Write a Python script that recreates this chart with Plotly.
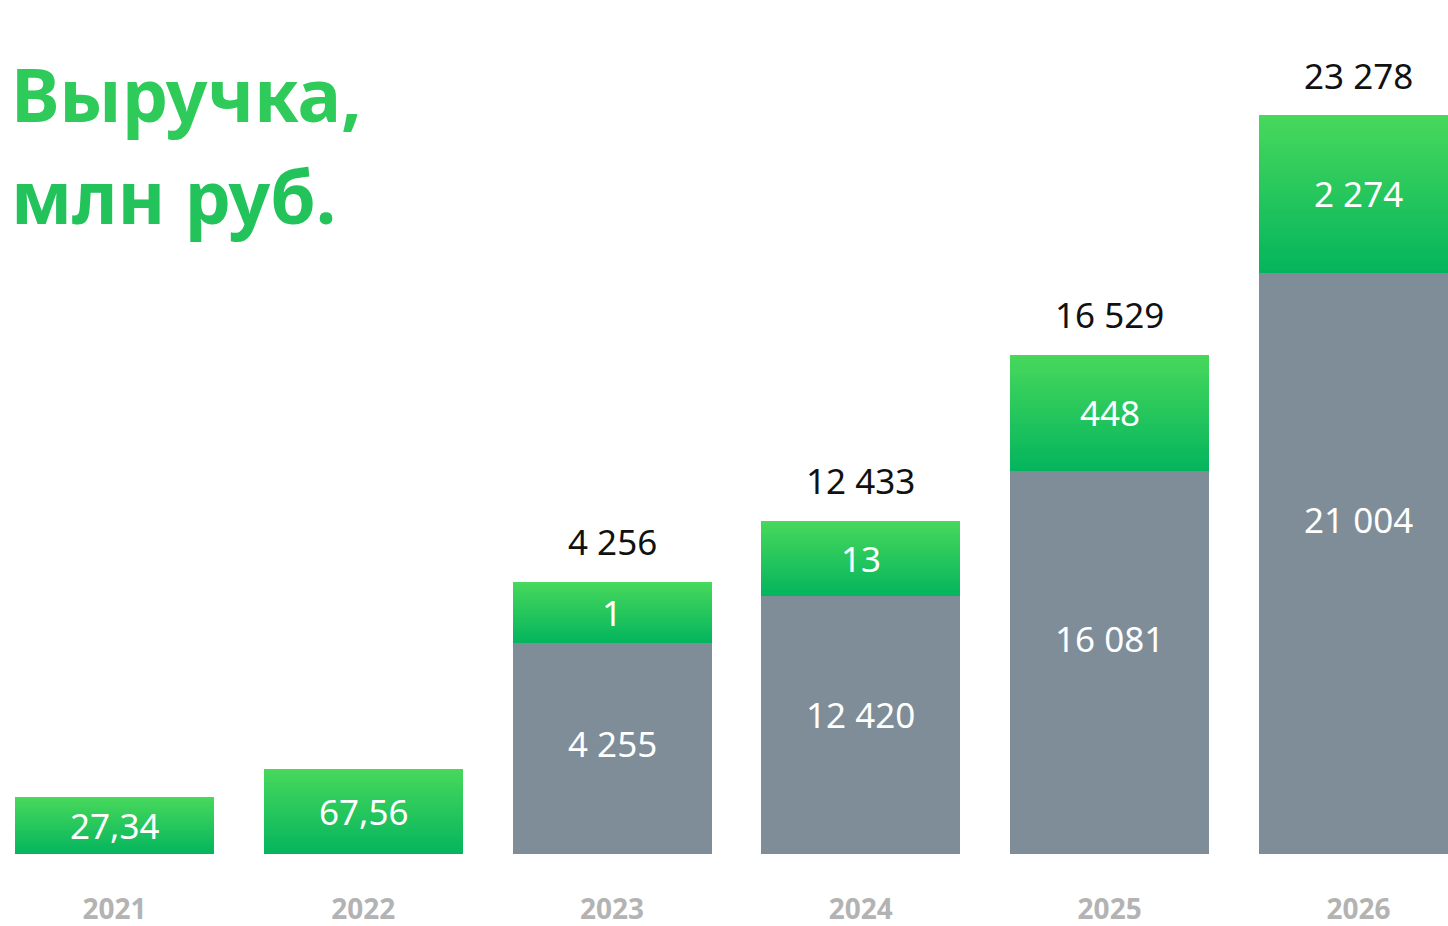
import plotly.graph_objects as go

# ---- data ----
years = ["2021", "2022", "2023", "2024", "2025", "2026"]
gray_values = [None, None, 4255, 12420, 16081, 21004]
green_values = [27.34, 67.56, 1, 13, 448, 2274]
total_values = [None, None, 4256, 12433, 16529, 23278]
# drawn (schematic, not-to-scale) segment heights as they appear in the infographic
gray_heights = [0, 0, 211.5, 258.5, 383.5, 581.5]
green_heights = [56.5, 85.5, 61, 75, 116, 157.5]

GRAY = "#7e8d98"
GREEN_BOTTOM = (5, 181, 93)
GREEN_TOP = (71, 216, 92)
FONT = "Noto Sans"


def fmt(v):
    if v is None:
        return ""
    if float(v).is_integer():
        return f"{int(v):,}".replace(",", " ")
    return f"{v:.2f}".replace(".", ",")


def mix(a, b, t):
    return "rgb(%d,%d,%d)" % tuple(round(a[i] + (b[i] - a[i]) * t) for i in range(3))


fig = go.Figure()

# gray bottom segments
fig.add_trace(go.Bar(
    x=years, y=gray_heights, base=[0] * len(years),
    marker=dict(color=GRAY, line=dict(width=0)),
    width=0.8, hoverinfo="skip", showlegend=False,
))

# green top segments, drawn as overlapping slices to imitate vertical gradient
N = 40
for k in range(N):
    t = k / (N - 1)
    bases = [g + h * k / N for g, h in zip(gray_heights, green_heights)]
    heights = [h * (1 - k / N) for h in green_heights]
    fig.add_trace(go.Bar(
        x=years, y=heights, base=bases,
        marker=dict(color=mix(GREEN_BOTTOM, GREEN_TOP, t), line=dict(width=0)),
        width=0.8, hoverinfo="skip", showlegend=False,
    ))

annotations = []
for i, yr in enumerate(years):
    g, h = gray_heights[i], green_heights[i]
    # green segment label (x given as category index)
    annotations.append(dict(
        x=i, y=g + h / 2, xref="x", yref="y", text=fmt(green_values[i]),
        showarrow=False, font=dict(family=FONT, size=35, color="white"),
        yanchor="middle",
    ))
    if gray_values[i] is not None:
        annotations.append(dict(
            x=i, y=g * 0.605 - 17, xref="x", yref="y", text=fmt(gray_values[i]),
            showarrow=False, font=dict(family=FONT, size=35, color="white"),
            yanchor="middle",
        ))
    if total_values[i] is not None:
        annotations.append(dict(
            x=i, y=g + h, xref="x", yref="y", text=fmt(total_values[i]),
            showarrow=False, font=dict(family=FONT, size=35, color="#111111"),
            yanchor="middle", yshift=40,
        ))

# title
annotations.append(dict(
    x=0.006, y=1 - 93 / 854, xref="paper", yref="paper", text="Выручка,",
    showarrow=False, xanchor="left", yanchor="middle",
    font=dict(family=FONT, size=73, color="#2fcb5a", weight="bold"),
))
annotations.append(dict(
    x=0.006, y=1 - 195 / 854, xref="paper", yref="paper", text="млн руб.",
    showarrow=False, xanchor="left", yanchor="middle",
    font=dict(family=FONT, size=73, color="#22c35a", weight="bold"),
))

fig.update_layout(
    width=1448, height=926,
    margin=dict(l=0, r=0, t=0, b=72),
    paper_bgcolor="white", plot_bgcolor="white",
    barmode="overlay", bargap=0,
    annotations=annotations,
    xaxis=dict(
        type="category", range=[-0.46, 5.36], automargin=False,
        showgrid=False, zeroline=False, showline=False, ticks="",
        tickfont=dict(family=FONT, size=28, color="#b3b3b3", weight="bold"),
        ticklabelstandoff=36,
    ),
    yaxis=dict(range=[0, 854], visible=False, showgrid=False, zeroline=False,
               automargin=False),
)

fig.write_html(
    "out.html",
    config={"displayModeBar": False},
    post_script="document.body.style.margin='0';document.body.style.overflow='hidden';",
)
